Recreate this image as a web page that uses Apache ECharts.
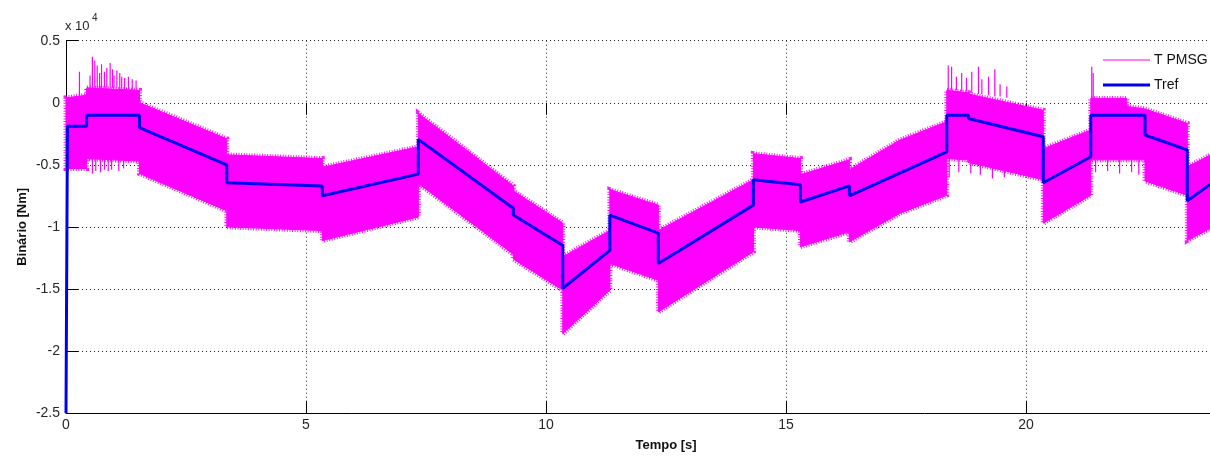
<!DOCTYPE html>
<html>
<head>
<meta charset="utf-8">
<script src="https://cdn.jsdelivr.net/npm/echarts@6/dist/echarts.min.js"></script>
<style>
  html, body { margin: 0; padding: 0; background: #fff; }
  #chart { width: 1210px; height: 457px; }
</style>
</head>
<body>
<div id="chart"></div>
<script>
// Torque values are in units of 10^4 Nm (as the axis multiplier shows).

// Reference torque Tref: time [s] and value
const TREF_T = [0, 0.03, 0.43, 0.43, 1.53, 1.53, 3.35, 3.35, 5.34, 5.34, 7.34, 7.34,
  9.32, 9.32, 10.35, 10.35, 11.33, 11.33, 12.34, 12.34, 14.32, 14.32, 15.30, 15.30,
  16.32, 16.32, 18.35, 18.35, 18.80, 18.80, 20.36, 20.36, 21.35, 21.35, 22.48, 22.48,
  23.36, 23.36, 23.90];
const TREF_V = [-2.5, -0.19, -0.19, -0.10, -0.10, -0.20, -0.50, -0.645, -0.67, -0.75, -0.575, -0.295,
  -0.85, -0.905, -1.15, -1.495, -1.19, -0.905, -1.05, -1.295, -0.825, -0.62, -0.66, -0.80,
  -0.67, -0.75, -0.395, -0.10, -0.10, -0.127, -0.274, -0.645, -0.435, -0.10, -0.10, -0.26,
  -0.38, -0.79, -0.64];

// Generator torque T PMSG: ripple band (upper / lower envelope) over time
const PMSG_T = [0, 0.43, 0.43, 1.53, 1.53, 3.35, 3.35, 5.34, 5.34, 7.34, 7.34,
  9.32, 9.32, 10.35, 10.35, 11.33, 11.33, 12.34, 12.34, 14.32, 14.32, 15.30, 15.30,
  16.32, 16.32, 17.375, 18.35, 18.35, 18.80, 18.80, 20.36, 20.36, 21.35, 21.35,
  22.10, 22.10, 22.48, 22.48, 23.36, 23.36, 23.90];
const PMSG_HI = [0.04, 0.06, 0.12, 0.10, 0.00, -0.29, -0.42, -0.45, -0.52, -0.355, -0.085,
  -0.67, -0.71, -0.97, -1.24, -1.03, -0.70, -0.825, -1.03, -0.62, -0.41, -0.45, -0.58,
  -0.46, -0.54, -0.30, -0.153, 0.10, 0.08, 0.07, -0.06, -0.37, -0.22, 0.035,
  0.035, -0.03, -0.05, -0.05, -0.166, -0.516, -0.41];
const PMSG_LO = [-0.53, -0.53, -0.45, -0.47, -0.57, -0.87, -1.00, -1.03, -1.11, -0.92, -0.65,
  -1.22, -1.26, -1.51, -1.86, -1.51, -1.295, -1.43, -1.685, -1.20, -1.00, -1.03, -1.16,
  -1.04, -1.12, -0.89, -0.745, -0.45, -0.46, -0.48, -0.62, -0.97, -0.745, -0.46,
  -0.46, -0.46, -0.46, -0.63, -0.745, -1.11, -1.00];

// Transient ripple peaks of T PMSG: [time, band edge, peak]
const PMSG_PEAKS = [
  [0.28, 0.05, 0.25], [0.50, 0.12, 0.22], [0.55, 0.12, 0.37], [0.60, 0.12, 0.34],
  [0.65, 0.12, 0.30], [0.70, 0.12, 0.24], [0.74, 0.12, 0.31], [0.80, 0.12, 0.25],
  [0.85, 0.12, 0.28], [0.92, 0.12, 0.32], [0.97, 0.12, 0.27], [1.00, 0.12, 0.22],
  [1.06, 0.12, 0.26], [1.12, 0.11, 0.24], [1.16, 0.11, 0.21], [1.22, 0.11, 0.20],
  [1.30, 0.11, 0.21], [1.38, 0.10, 0.19], [1.46, 0.10, 0.18],
  [0.55, -0.45, -0.57], [0.62, -0.45, -0.55], [0.72, -0.45, -0.56], [0.80, -0.45, -0.54],
  [0.88, -0.45, -0.55], [0.95, -0.45, -0.54], [1.10, -0.46, -0.55], [1.20, -0.46, -0.53],
  [18.38, 0.10, 0.30], [18.45, 0.10, 0.29], [18.55, 0.10, 0.21], [18.66, 0.09, 0.24],
  [18.76, 0.09, 0.20], [18.87, 0.08, 0.25], [19.01, 0.07, 0.29], [19.08, 0.07, 0.19],
  [19.22, 0.06, 0.21], [19.35, 0.05, 0.27], [19.46, 0.05, 0.15], [19.60, 0.04, 0.13],
  [18.40, -0.45, -0.60], [18.60, -0.45, -0.56], [18.85, -0.47, -0.57], [19.05, -0.48, -0.58],
  [19.30, -0.50, -0.61], [19.55, -0.52, -0.60],
  [21.37, 0.03, 0.29], [21.40, 0.03, 0.24],
  [21.45, -0.46, -0.56], [21.70, -0.46, -0.55], [21.95, -0.46, -0.57], [22.20, -0.46, -0.56],
  [22.35, -0.46, -0.58]
];

const X_MIN = 0, X_MAX = 25, X_STEP = 5;
const Y_MIN = -2.5, Y_MAX = 0.5, Y_STEP = 0.5;

const MAGENTA = '#ff00ff';
const BLUE = '#0000f0';
const FONT = '"Liberation Sans", Arial, Helvetica, sans-serif';

const chart = echarts.init(document.getElementById('chart'), null, { renderer: 'canvas' });

const gridLine = { show: true, lineStyle: { color: '#222', width: 1, type: [1, 3] } };
const tickIn = { show: true, inside: true, length: 12, lineStyle: { color: '#000', width: 1 } };

// The axes run to t = 25 s; the page is narrower, so the plot extends past the right edge.
chart.setOption({
  animation: false,
  backgroundColor: '#fff',
  grid: {
    left: 66, top: 40.7, width: 1200, height: 372.3,
    containLabel: false, outerBoundsMode: 'none'
  },
  graphic: [
    { type: 'text', left: 65, top: 20, style: { text: 'x 10', fontSize: 13, fontFamily: FONT, fill: '#262626' } },
    { type: 'text', left: 92, top: 13, style: { text: '4', fontSize: 10, fontFamily: FONT, fill: '#262626' } }
  ],
  legend: [
    {
      data: [{ name: 'T PMSG', icon: 'rect' }],
      left: 1103, top: 53, itemWidth: 47, itemHeight: 1, padding: 0,
      selectedMode: false,
      textStyle: { fontSize: 14, fontFamily: FONT, color: '#111', padding: [0, 0, 0, -1] }
    },
    {
      data: [{ name: 'Tref', icon: 'rect' }],
      left: 1103, top: 78, itemWidth: 47, itemHeight: 3, padding: 0,
      selectedMode: false,
      textStyle: { fontSize: 14, fontFamily: FONT, color: '#111', padding: [0, 0, 0, -1] }
    }
  ],
  xAxis: [
    {
      type: 'value', min: X_MIN, max: X_MAX, interval: X_STEP,
      name: 'Tempo [s]', nameLocation: 'middle', nameGap: 26,
      nameMoveOverlap: false,
      nameTextStyle: { fontSize: 13, fontWeight: 'bold', fontFamily: FONT, color: '#111' },
      axisLine: { show: true, onZero: false, lineStyle: { color: '#000', width: 1 } },
      axisTick: tickIn,
      axisLabel: { fontSize: 14, fontFamily: FONT, color: '#262626', margin: 5 },
      splitLine: gridLine
    },
    {
      type: 'value', position: 'top', min: X_MIN, max: X_MAX, interval: X_STEP,
      axisLine: { show: false }, axisTick: tickIn,
      axisLabel: { show: false }, splitLine: { show: false }
    }
  ],
  yAxis: {
    type: 'value', min: Y_MIN, max: Y_MAX, interval: Y_STEP,
    name: 'Binário [Nm]', nameLocation: 'middle', nameGap: 37,
    nameMoveOverlap: false,
    nameTextStyle: { fontSize: 13, fontWeight: 'bold', fontFamily: FONT, color: '#111' },
    axisLine: { show: true, onZero: false, lineStyle: { color: '#000', width: 1 } },
    axisTick: tickIn,
    axisLabel: { fontSize: 14, fontFamily: FONT, color: '#262626', margin: 6 },
    splitLine: gridLine
  },
  series: [
    {
      name: 'T PMSG',
      type: 'custom',
      coordinateSystem: 'cartesian2d',
      itemStyle: { color: MAGENTA },
      data: [[0, 0]],
      z: 2,
      renderItem: function (params, api) {
        const pts = [];
        for (let i = 0; i < PMSG_T.length; i++) pts.push(api.coord([PMSG_T[i], PMSG_HI[i]]));
        for (let i = PMSG_T.length - 1; i >= 0; i--) pts.push(api.coord([PMSG_T[i], PMSG_LO[i]]));
        const children = [
          // solid ripple band
          { type: 'polygon', shape: { points: pts }, style: { fill: MAGENTA, stroke: MAGENTA, lineWidth: 1 } },
          // fine serrated fringe along the band edges (high-frequency ripple)
          { type: 'polygon', shape: { points: pts },
            style: { fill: null, stroke: MAGENTA, lineWidth: 5, lineDash: [1, 1.6], opacity: 0.9 } }
        ];
        PMSG_PEAKS.forEach(function (p) {
          const a = api.coord([p[0], p[1]]);
          const b = api.coord([p[0], p[2]]);
          children.push({
            type: 'line',
            shape: { x1: a[0], y1: a[1], x2: b[0], y2: b[1] },
            style: { stroke: MAGENTA, lineWidth: 1.2 }
          });
        });
        return { type: 'group', children: children };
      }
    },
    {
      name: 'Tref',
      type: 'line',
      data: TREF_T.map(function (t, i) { return [t, TREF_V[i]]; }),
      showSymbol: false,
      symbol: 'none',
      lineStyle: { color: BLUE, width: 3 },
      itemStyle: { color: BLUE },
      z: 3
    }
  ]
});
</script>
</body>
</html>
